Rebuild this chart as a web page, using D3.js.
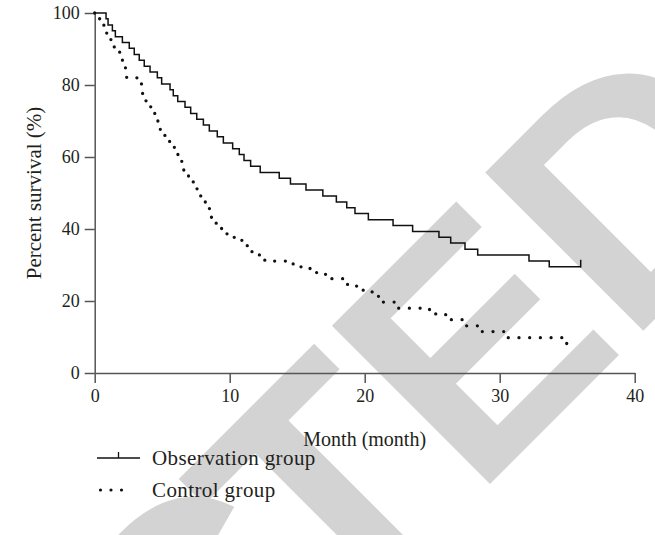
<!DOCTYPE html>
<html>
<head>
<meta charset="utf-8">
<script src="https://cdn.jsdelivr.net/npm/d3@7"></script>
<style>
  html, body { margin: 0; padding: 0; background: #fff; }
  svg { display: block; }
</style>
</head>
<body>
<svg id="chart" width="655" height="535"></svg>
<script>
// ---- data ----
const xTicks = [0, 10, 20, 30, 40];
const yTicks = [0, 20, 40, 60, 80, 100];

// Observation group: months at which survival drops, and survival (%) after each drop
const obsTimes = [0.84,0.99,1.31,1.53,2.05,2.56,2.93,3.30,3.67,4.10,4.64,4.96,5.58,5.82,6.15,6.69,7.11,7.56,8.05,8.49,9.08,9.53,10.22,10.71,11.06,11.55,12.26,13.67,14.50,15.65,16.90,17.90,18.67,19.28,20.27,22.10,23.55,25.50,26.37,27.43,28.37,32.17,33.67];
const obsValues = [98.4,96.7,95.1,93.4,91.8,90.2,88.5,86.9,85.2,83.6,82.0,80.3,78.7,77.0,75.4,73.8,72.1,70.5,68.9,67.2,65.6,63.9,62.3,60.7,59.0,57.4,55.7,54.1,52.5,50.8,49.2,47.5,45.9,44.3,42.6,41.0,39.3,37.7,36.1,34.4,32.8,31.1,29.5];
const obsEnd = 36.0;

// Control group
const ctrlTimes = [0.30,0.50,0.68,0.89,1.20,1.45,1.85,1.98,2.15,2.28,2.37,3.40,3.48,3.55,3.80,4.15,4.40,4.55,4.68,4.86,5.20,5.55,5.90,6.05,6.25,6.45,6.60,6.95,7.30,7.58,7.80,7.95,8.45,8.50,8.65,9.00,9.40,9.80,10.90,11.30,11.65,12.60,14.70,15.95,17.10,18.60,19.40,20.55,21.10,22.20,24.80,26.00,27.50,28.70,30.35,34.65];
const ctrlValues = [98.4,96.7,95.1,93.4,91.8,90.2,88.5,86.9,85.2,83.6,82.0,80.3,78.7,77.0,75.4,73.8,72.1,70.5,68.9,67.2,65.6,63.9,62.3,60.7,59.0,57.4,55.7,54.1,52.5,50.8,49.2,47.5,45.9,44.3,42.6,41.0,39.3,37.7,36.1,34.4,32.8,31.1,29.5,27.9,26.2,24.6,23.0,21.3,19.7,18.0,16.4,14.8,13.1,11.5,9.8,8.2];
const ctrlEnd = 35.55;

const seriesNames = ["Observation group", "Control group"];
const xTitle = "Month (month)";
const yTitle = "Percent survival (%)";
const watermark = "RETRACTED";

// ---- layout ----
const svg = d3.select("#chart");
const serif = "'Liberation Serif', 'Times New Roman', serif";
const axisColor = "#555";
const textColor = "#231f20";

const x = d3.scaleLinear().domain([0, 40]).range([94.7, 634.7]);
const y = d3.scaleLinear().domain([0, 100]).range([373, 13]);

// ---- watermark (behind everything) ----
const wm = svg.append("text")
  .attr("font-family", "'Liberation Sans', Arial, sans-serif")
  .attr("font-weight", "bold")
  .attr("font-size", 325)
  .attr("fill", "#d3d3d3")
  .text(watermark);
const preLen = wm.node().getSubStringLength(0, 7);
const cShift = 35;
wm.attr("x", -preLen + cShift).attr("y", 0)
  .attr("dx", "0 0 0 0 0 0 " + (-cShift))
  .attr("transform", "translate(474.6,499.4) rotate(-45)");

// ---- axes ----
const gx = svg.append("g").attr("transform", `translate(0,${y(0)})`)
  .call(d3.axisBottom(x).tickValues(xTicks).tickSize(10).tickSizeOuter(0).tickPadding(6).tickFormat(d3.format("d")));
const gy = svg.append("g").attr("transform", `translate(${x(0)},0)`)
  .call(d3.axisLeft(y).tickValues(yTicks).tickSize(10).tickSizeOuter(0).tickPadding(5).tickFormat(d3.format("d")));
[gx, gy].forEach(g => {
  g.select(".domain").attr("stroke", axisColor).attr("stroke-width", 1.5);
  g.selectAll(".tick line").attr("stroke", axisColor).attr("stroke-width", 1.5);
  g.selectAll(".tick text").attr("fill", textColor)
    .attr("font-family", serif).attr("font-size", 18);
});

// ---- curves ----
function stepPoints(times, values, end) {
  const pts = [[0, 100]];
  times.forEach((t, i) => pts.push([t, values[i]]));
  pts.push([end, values[values.length - 1]]);
  return pts;
}
const line = d3.line().x(d => x(d[0])).y(d => y(d[1])).curve(d3.curveStepAfter);

svg.append("path")
  .datum(stepPoints(ctrlTimes, ctrlValues, ctrlEnd))
  .attr("d", line)
  .attr("fill", "none")
  .attr("stroke", "#111")
  .attr("stroke-width", 3.3)
  .attr("stroke-linecap", "round")
  .attr("stroke-dasharray", "0 10.7");

svg.append("path")
  .datum(stepPoints(obsTimes, obsValues, obsEnd))
  .attr("d", line)
  .attr("fill", "none")
  .attr("stroke", "#111")
  .attr("stroke-width", 1.5);

// censor mark at end of observation curve
svg.append("line")
  .attr("x1", x(obsEnd)).attr("x2", x(obsEnd))
  .attr("y1", y(obsValues[obsValues.length - 1]) + 0.75)
  .attr("y2", y(obsValues[obsValues.length - 1]) - 7)
  .attr("stroke", "#111").attr("stroke-width", 1.5);

// ---- axis titles ----
svg.append("text")
  .attr("x", x(20)).attr("y", 446)
  .attr("text-anchor", "middle")
  .attr("font-family", serif).attr("font-size", 20).attr("fill", textColor)
  .text(xTitle);
svg.append("text")
  .attr("transform", `translate(41,${y(50)}) rotate(-90)`)
  .attr("text-anchor", "middle")
  .attr("font-family", serif).attr("font-size", 21).attr("fill", textColor)
  .text(yTitle);

// ---- legend ----
const lg = svg.append("g");
lg.append("line").attr("x1", 97).attr("x2", 140).attr("y1", 458).attr("y2", 458)
  .attr("stroke", "#111").attr("stroke-width", 1.3);
lg.append("line").attr("x1", 118.5).attr("x2", 118.5).attr("y1", 458).attr("y2", 452)
  .attr("stroke", "#111").attr("stroke-width", 1.3);
lg.append("line").attr("x1", 100.5).attr("x2", 132).attr("y1", 490).attr("y2", 490)
  .attr("stroke", "#111").attr("stroke-width", 3.2)
  .attr("stroke-linecap", "round").attr("stroke-dasharray", "0 10.5");
lg.selectAll("text.lab").data(seriesNames).enter().append("text")
  .attr("x", 152).attr("y", (d, i) => 465 + i * 32)
  .attr("font-family", serif).attr("font-size", 21).attr("fill", textColor)
  .attr("letter-spacing", 0.4)
  .text(d => d);
</script>
</body>
</html>
